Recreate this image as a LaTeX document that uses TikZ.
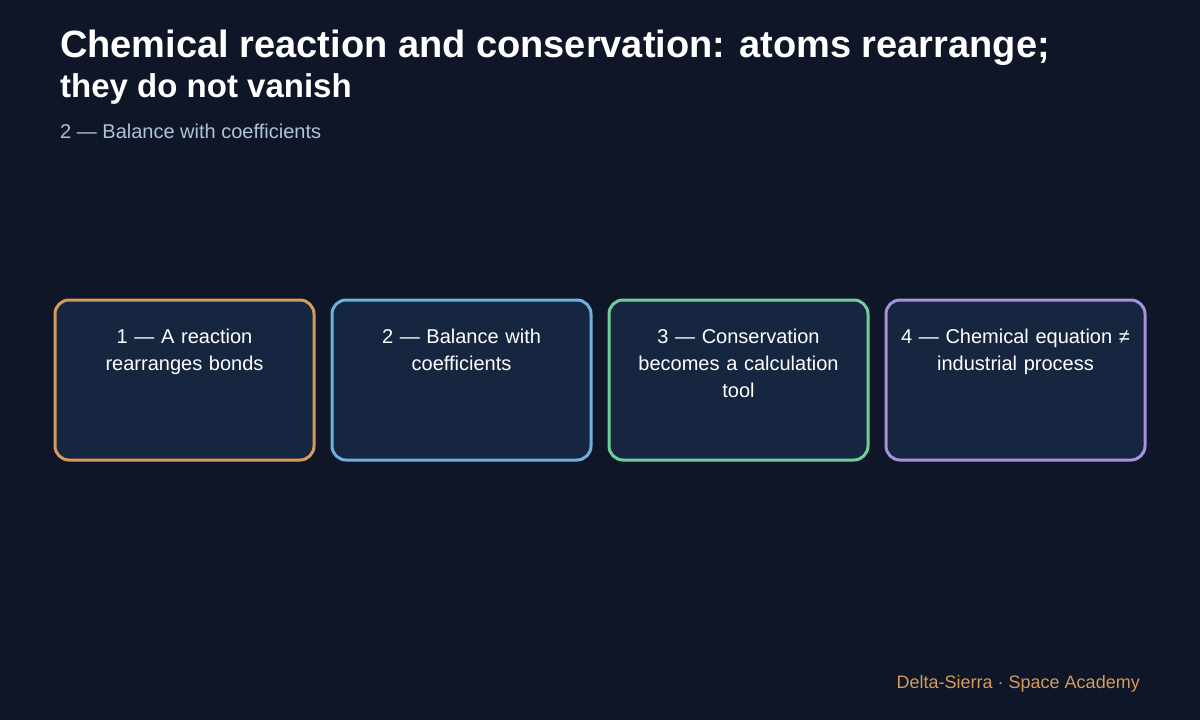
\documentclass[tikz,border=0pt]{standalone}
\usepackage{fontspec}
\setmainfont{Liberation Sans}
\usetikzlibrary{arrows.meta}
\definecolor{bgcol}{HTML}{0E1627}
\definecolor{boxfill}{HTML}{172640}
\definecolor{cone}{HTML}{D49A5E}
\definecolor{ctwo}{HTML}{6FB0DC}
\definecolor{cthree}{HTML}{6FCF9A}
\definecolor{cfour}{HTML}{A98FDC}
\definecolor{arrowcol}{HTML}{9DC8E6}
\definecolor{subcol}{HTML}{AFC3D6}
\begin{document}
\begin{tikzpicture}[x=1pt,y=-1pt,
  step/.style={draw=#1,line width=3pt,fill=boxfill,rounded corners=14pt,minimum width=259pt,minimum height=160pt,inner sep=0pt},
  steptext/.style={text=white,align=center,text width=250pt,font=\fontsize{20}{27}\selectfont,anchor=north,inner sep=0pt},
  flow/.style={draw=none,-{Triangle[length=48pt,width=33pt]},arrowcol,shorten >=4pt}]

\fill[bgcol] (0,0) rectangle (1200,720);
\useasboundingbox (0,0) rectangle (1200,720);

\node (title) [anchor=north west,inner sep=0pt,text=white,align=left,font=\bfseries\fontsize{38}{42}\selectfont] at (60,30) {Chemical reaction and conservation: atoms rearrange;\\[-2pt]\fontsize{33}{38}\selectfont they do not vanish};
\node (sub) [anchor=north west,inner sep=0pt,text=subcol,font=\fontsize{20}{24}\selectfont] at (60,124) {2 — Balance with coefficients};

\node (b1) [step=cone] at (184.5,380) {};
\node (b2) [step=ctwo] at (461.5,380) {};
\node (b3) [step=cthree] at (738.5,380) {};
\node (b4) [step=cfour] at (1015.5,380) {};

\node (t1) [steptext] at (184.5,329) {1 — A reaction\\rearranges bonds};
\node (t2) [steptext] at (461.5,329) {2 — Balance with\\coefficients};
\node (t3) [steptext] at (738.5,329) {3 — Conservation\\becomes a calculation\\tool};
\node (t4) [steptext] at (1015.5,329) {4 — Chemical equation ≠\\industrial process};

\path[flow] (b1.east) -- (b2.west);
\path[flow] (b2.east) -- (b3.west);
\path[flow] (b3.east) -- (b4.west);

\node (foot) [anchor=east,inner sep=0pt,text=cone,font=\fontsize{18}{22}\selectfont] at (1140,684) {Delta-Sierra · Space Academy};
\end{tikzpicture}
\end{document}
